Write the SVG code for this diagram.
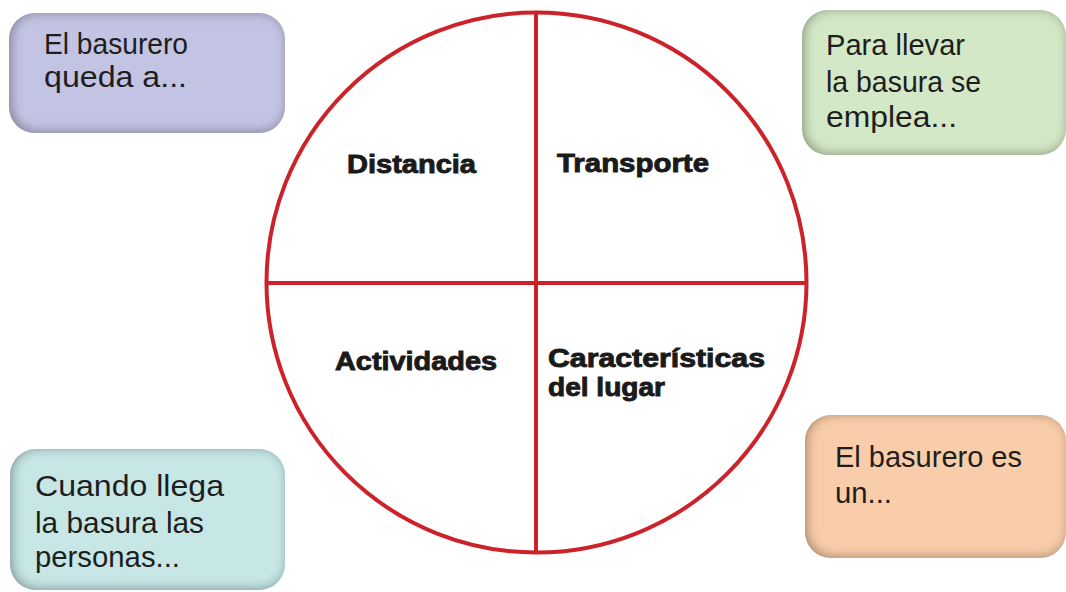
<svg xmlns="http://www.w3.org/2000/svg" width="1066" height="592" viewBox="0 0 1066 592">
<defs>
<filter id="inset" x="-10%" y="-10%" width="120%" height="120%">
<feFlood flood-color="#000" flood-opacity="0.7" result="f"/>
<feComposite in="f" in2="SourceAlpha" operator="out" result="o"/>
<feGaussianBlur in="o" stdDeviation="6" result="b"/>
<feOffset in="b" dx="2" dy="-1" result="bo"/>
<feComposite in="bo" in2="SourceAlpha" operator="in" result="s"/>
<feMerge><feMergeNode in="SourceGraphic"/><feMergeNode in="s"/></feMerge>
</filter>
<style>
.box{filter:url(#inset);}
.t{font-family:"Liberation Sans",Arial,sans-serif;font-size:30px;fill:#1e1e1e;}
.b{font-family:"Liberation Sans",Arial,sans-serif;font-size:26px;font-weight:bold;fill:#1a1a1a;stroke:#1a1a1a;stroke-width:0.9px;}
.red{fill:none;stroke:#cc2229;stroke-width:4;}
</style>
</defs>
<rect width="1066" height="592" fill="#fff"/>
<g id="circle">
<circle class="red" cx="536.5" cy="282.5" r="270"/>
</g>
<g id="connectors">
<line class="red" x1="536" y1="12" x2="536" y2="553"/>
<line class="red" x1="266" y1="283" x2="807" y2="283"/>
</g>
<g id="q-distancia"><text class="b" x="347" y="173" textLength="129" lengthAdjust="spacingAndGlyphs">Distancia</text></g>
<g id="q-transporte"><text class="b" x="557" y="172" textLength="152" lengthAdjust="spacingAndGlyphs">Transporte</text></g>
<g id="q-actividades"><text class="b" x="335" y="370" textLength="162" lengthAdjust="spacingAndGlyphs">Actividades</text></g>
<g id="q-caracteristicas">
<text class="b" x="548" y="367" textLength="217" lengthAdjust="spacingAndGlyphs">Características</text>
<text class="b" x="548" y="396" textLength="117" lengthAdjust="spacingAndGlyphs">del lugar</text>
</g>
<g id="box-distancia">
<rect class="box" x="9" y="13" width="276" height="120" rx="26" fill="#c3c3e3"/>
<text class="t" x="44" y="54" textLength="144" lengthAdjust="spacingAndGlyphs">El basurero</text>
<text class="t" x="44" y="87" textLength="143" lengthAdjust="spacingAndGlyphs">queda a...</text>
</g>
<g id="box-transporte">
<rect class="box" x="802" y="10" width="264" height="145" rx="26" fill="#d3e8c6"/>
<text class="t" x="826" y="55" textLength="139" lengthAdjust="spacingAndGlyphs">Para llevar</text>
<text class="t" x="826" y="92" textLength="155" lengthAdjust="spacingAndGlyphs">la basura se</text>
<text class="t" x="826" y="127" textLength="131" lengthAdjust="spacingAndGlyphs">emplea...</text>
</g>
<g id="box-actividades">
<rect class="box" x="10" y="449" width="275" height="141" rx="26" fill="#c6e7e6"/>
<text class="t" x="35" y="496" textLength="189" lengthAdjust="spacingAndGlyphs">Cuando llega</text>
<text class="t" x="35" y="533" textLength="169" lengthAdjust="spacingAndGlyphs">la basura las</text>
<text class="t" x="35" y="567" textLength="145" lengthAdjust="spacingAndGlyphs">personas...</text>
</g>
<g id="box-lugar">
<rect class="box" x="805" y="415" width="261" height="143" rx="26" fill="#f9cda9"/>
<text class="t" x="835" y="467" textLength="187" lengthAdjust="spacingAndGlyphs">El basurero es</text>
<text class="t" x="835" y="503" textLength="57" lengthAdjust="spacingAndGlyphs">un...</text>
</g>
</svg>
